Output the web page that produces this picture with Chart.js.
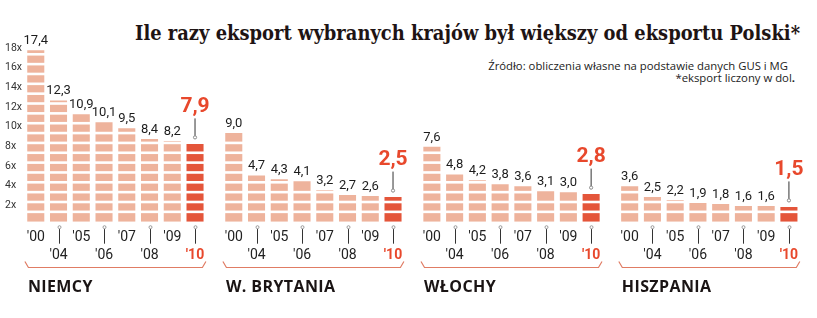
<!DOCTYPE html>
<html>
<head>
<meta charset="utf-8">
<script src="https://cdn.jsdelivr.net/npm/chart.js@4/dist/chart.umd.min.js"></script>
<style>
  html, body { margin: 0; padding: 0; background: #fff; }
  #wrap { position: relative; width: 817px; height: 318px; overflow: hidden; background: #fff; }
  canvas { position: absolute; left: 0; top: 0; }
  #title { position: absolute; left: 135px; top: 22px; white-space: nowrap; transform-origin: 0 0;
           font-family: "DejaVu Serif", serif; font-weight: bold; font-size: 21px; color: #1e1414; line-height: 1; }
  .src { position: absolute; white-space: nowrap; font-family: "Open Sans", sans-serif; color: #222; line-height: 1; }
  #src1 { right: 29px; top: 60px; }
  #src2 { right: 22px; top: 72px; }
</style>
</head>
<body>
<div id="wrap">
  <div id="title">Ile razy eksport wybranych krajów był większy od eksportu Polski*</div>
  <div class="src" id="src1">Źródło: obliczenia własne na podstawie danych GUS i MG</div>
  <div class="src" id="src2">*eksport liczony w dol<b>.</b></div>
  <canvas id="c0" width="817" height="318"></canvas>
  <canvas id="c1" width="817" height="318"></canvas>
  <canvas id="c2" width="817" height="318"></canvas>
  <canvas id="c3" width="817" height="318"></canvas>
</div>
<script>
// ---- data ----
const countries = ['NIEMCY', 'W. BRYTANIA', 'WŁOCHY', 'HISZPANIA'];
const years = ["'00", "'04", "'05", "'06", "'07", "'08", "'09", "'10"];
const niemcy = [17.4, 12.3, 10.9, 10.1, 9.5, 8.4, 8.2, 7.9];
const wBrytania = [9.0, 4.7, 4.3, 4.1, 3.2, 2.7, 2.6, 2.5];
const wlochy = [7.6, 4.8, 4.2, 3.8, 3.6, 3.1, 3.0, 2.8];
const hiszpania = [3.6, 2.5, 2.2, 1.9, 1.8, 1.6, 1.6, 1.5];
const yTicks = [2, 4, 6, 8, 10, 12, 14, 16, 18];
const seriesList = [niemcy, wBrytania, wlochy, hiszpania];

// ---- layout / style ----
const W = 817, H = 318;
const PANEL_LEFT = [24.4, 222.4, 420.5, 618.3];
const PANEL_W = 182;
const AREA_TOP = 39.5, AREA_BOTTOM = 221.7, XAXIS_H = 40;
const Y_MAX = 18.5;
const LIGHT = '#eeb39c', RED = '#e4553a', RED_TEXT = '#e8482c', DARK = '#1c1c1c', BRACKET = '#e07c64';

function measure(el, size) {
  const c = document.createElement('canvas').getContext('2d');
  const cs = getComputedStyle(el);
  c.font = cs.fontWeight + ' ' + size + 'px ' + cs.fontFamily;
  return c.measureText(el.textContent).width;
}
(function () {
  const t = document.getElementById('title');
  const w = measure(t, 21);
  t.style.transform = 'scaleX(' + (665 / w) + ')';
  const s1 = document.getElementById('src1');
  const fs = 11 * 300 / measure(s1, 11);
  s1.style.fontSize = fs + 'px';
  document.getElementById('src2').style.fontSize = fs + 'px';
})();

const fmt = v => v.toFixed(1).replace('.', ',');

const decoPlugin = {
  id: 'deco',
  afterDatasetsDraw(chart) {
    const ctx = chart.ctx;
    const ys = chart.scales.y, xs = chart.scales.x;
    const meta = chart.getDatasetMeta(0);
    const data = chart.data.datasets[0].data;
    const last = data.length - 1;
    ctx.save();
    // white stripes each unit
    meta.data.forEach((el, i) => {
      const v = data[i];
      ctx.fillStyle = '#ffffff';
      for (let k = 1; k < v; k++) {
        const yk = ys.getPixelForValue(k);
        if (yk > el.y + 1.5) ctx.fillRect(el.x - el.width / 2 - 1, yk - 1.3, el.width + 2, 2.6);
      }
    });
    // value labels
    ctx.textAlign = 'center';
    ctx.textBaseline = 'middle';
    meta.data.forEach((el, i) => {
      const v = data[i];
      if (i === last) {
        const cy = el.y - 6.5;
        ctx.strokeStyle = '#333';
        ctx.lineWidth = 1;
        ctx.beginPath();
        ctx.moveTo(el.x, cy - 1.5);
        ctx.lineTo(el.x, cy - 19);
        ctx.stroke();
        ctx.beginPath();
        ctx.arc(el.x, cy, 1.6, 0, Math.PI * 2);
        ctx.fillStyle = '#fff';
        ctx.fill();
        ctx.strokeStyle = '#888';
        ctx.stroke();
        ctx.fillStyle = RED_TEXT;
        ctx.font = 'bold 21px Roboto';
        ctx.fillText(fmt(v), el.x, cy - 30.5);
      } else {
        ctx.fillStyle = DARK;
        ctx.font = '13px Roboto';
        ctx.fillText(fmt(v), el.x, el.y - 9.5);
      }
    });
    // connectors for second row of year labels
    meta.data.forEach((el, i) => {
      if (i % 2 === 1) {
        const x = Math.round(xs.getPixelForTick(i)) + 0.5;
        ctx.strokeStyle = '#333';
        ctx.lineWidth = 1;
        ctx.beginPath();
        ctx.moveTo(x, AREA_BOTTOM + 7);
        ctx.lineTo(x, AREA_BOTTOM + 22);
        ctx.stroke();
        ctx.beginPath();
        ctx.arc(x, AREA_BOTTOM + 5.5, 1.5, 0, Math.PI * 2);
        ctx.fillStyle = '#fff';
        ctx.fill();
        ctx.strokeStyle = '#999';
        ctx.stroke();
      }
    });
    // bracket
    const a = chart.chartArea;
    ctx.strokeStyle = BRACKET;
    ctx.lineWidth = 1.2;
    ctx.beginPath();
    ctx.moveTo(a.left + 0.5, 261.5);
    ctx.lineTo(a.left + 4, 267.5);
    ctx.lineTo(a.right - 4, 267.5);
    ctx.lineTo(a.right - 0.5, 261.5);
    ctx.stroke();
    // country name
    ctx.fillStyle = '#1a1414';
    ctx.font = 'bold 16px "Open Sans"';
    ctx.textAlign = 'left';
    ctx.textBaseline = 'middle';
    try { ctx.letterSpacing = '0.4px'; } catch (e) {}
    ctx.fillText(chart.options.plugins.deco.name, a.left + 3.5, 287);
    ctx.restore();
  }
};

seriesList.forEach((series, p) => {
  const showY = p === 0;
  const padLeft = showY ? 5 : PANEL_LEFT[p];
  const padRight = W - (PANEL_LEFT[p] + PANEL_W);
  new Chart(document.getElementById('c' + p), {
    type: 'bar',
    data: {
      labels: years,
      datasets: [{
        data: series,
        backgroundColor: ctx => ctx.dataIndex === series.length - 1 ? RED : LIGHT,
        borderWidth: 0,
        barPercentage: 0.75,
        categoryPercentage: 1.0
      }]
    },
    options: {
      responsive: false,
      animation: false,
      events: [],
      layout: { padding: { left: padLeft, right: padRight, top: AREA_TOP, bottom: H - AREA_BOTTOM - XAXIS_H } },
      plugins: { legend: { display: false }, tooltip: { enabled: false }, deco: { name: countries[p] } },
      scales: {
        x: {
          grid: { display: false, drawTicks: false },
          border: { display: false },
          afterFit: s => { s.height = XAXIS_H; },
          ticks: {
            autoSkip: false,
            maxRotation: 0,
            padding: 6.5,
            callback: (val, i) => i % 2 === 0 ? [years[i], ''] : ['', years[i]],
            color: c => c.index === years.length - 1 ? RED_TEXT : '#222',
            font: c => c.index === years.length - 1
              ? { family: 'Roboto', size: 14, weight: 'bold', lineHeight: 18 / 14 }
              : { family: 'Roboto', size: 14, lineHeight: 18 / 14 }
          }
        },
        y: {
          display: showY,
          min: 0,
          max: Y_MAX,
          grid: { display: false, drawTicks: false },
          border: { display: false },
          afterFit: s => { if (showY) s.width = PANEL_LEFT[0] - 5; else s.width = 0; },
          afterBuildTicks: s => { s.ticks = yTicks.map(v => ({ value: v })); },
          ticks: {
            crossAlign: 'far',
            padding: 0,
            labelOffset: 3.5,
            color: '#333',
            font: { family: 'Roboto', size: 10.5 },
            callback: v => v + 'x'
          }
        }
      }
    },
    plugins: [decoPlugin]
  });
});
</script>
</body>
</html>
